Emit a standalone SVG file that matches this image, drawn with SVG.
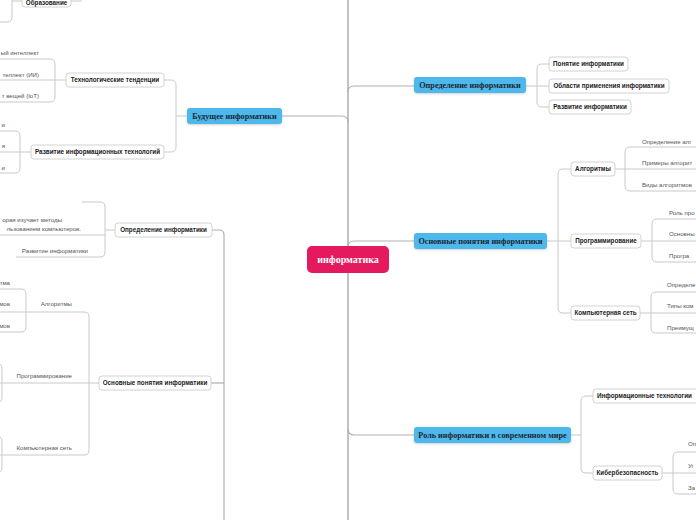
<svg xmlns="http://www.w3.org/2000/svg" width="696" height="520" viewBox="0 0 696 520">
<defs>
<filter id="sh" x="-10%" y="-30%" width="120%" height="170%">
<feDropShadow dx="0" dy="1" stdDeviation="1" flood-color="#000" flood-opacity="0.18"/>
</filter>
<style>
.trunk{fill:none;stroke:#9a9a9a;stroke-width:1.2}
.c{fill:none;stroke:#c9c9c9;stroke-width:1}
.cb{fill:none;stroke:#b0b0b0;stroke-width:1.2}
.blue{fill:#4db8ec;filter:url(#sh)}
.bt{font-family:"Liberation Serif","DejaVu Serif",serif;font-weight:bold;font-size:8.2px;fill:#1d2733;text-anchor:middle}
.ctr{fill:#e5195e}
.ct{font-family:"Liberation Serif","DejaVu Serif",serif;font-weight:bold;font-size:10px;fill:#ffffff;text-anchor:middle}
.wn{fill:#ffffff;stroke:#d2d2d2;stroke-width:1}
.wt{font-family:"Liberation Sans","Arial",sans-serif;font-weight:bold;font-size:6.3px;fill:#222;text-anchor:middle}
.st{font-family:"Liberation Sans","Arial",sans-serif;font-size:6.1px;fill:#555}
.e{text-anchor:end}
</style>
</defs>
<rect width="696" height="520" fill="#ffffff"/>
<g id="connectors">
<path class="trunk" d="M348,0 V520"/>
<path class="cb" d="M348,92 Q348,86 354,86 H414"/>
<path class="cb" d="M348,247 Q348,241 354,241 H414"/>
<path class="cb" d="M348,429 Q348,435 354,435 H414"/>
<path class="cb" d="M282,116 H342 Q348,116 348,122"/>
<path class="c" d="M526,86 H549"/>
<path class="c" d="M549,64 H542 Q537,64 537,69 V102 Q537,107 542,107 H549"/>
<path class="c" d="M547,241 H571"/>
<path class="c" d="M571,169 H563 Q558,169 558,174 V308 Q558,313 563,313 H571"/>
<path class="c" d="M615,169 H696"/>
<path class="c" d="M696,147 H630 Q625,147 625,152 V186 Q625,191 630,191 H696"/>
<path class="c" d="M641,241 H696"/>
<path class="c" d="M696,219 H657 Q652,219 652,224 V257 Q652,262 657,262 H696"/>
<path class="c" d="M640,313 H696"/>
<path class="c" d="M696,292 H656 Q651,292 651,297 V328 Q651,333 656,333 H696"/>
<path class="c" d="M571,435 H581"/>
<path class="c" d="M593,396 H586 Q581,396 581,401 V468 Q581,473 586,473 H593"/>
<path class="c" d="M662,473 H696"/>
<path class="c" d="M696,452 H678 Q673,452 673,457 V489 Q673,494 678,494 H696"/>
<path class="c" d="M187,116 H176"/>
<path class="c" d="M164,80 H171 Q176,80 176,85 V147 Q176,152 171,152 H164"/>
<path class="c" d="M66,80 H0"/>
<path class="c" d="M0,59 H50 Q55,59 55,64 V97 Q55,102 50,102 H0"/>
<path class="c" d="M31,152 H0"/>
<path class="c" d="M0,131 H15 Q20,131 20,136 V168 Q20,173 15,173 H0"/>
<path class="c" d="M22,1 H12 M71,1 H82"/>
<path class="c" d="M12,-2 V17 Q12,22 7,22 H0"/>
<path class="cb" d="M212,230 H219 Q224,230 224,235 V520"/>
<path class="cb" d="M211,383 H224"/>
<path class="c" d="M115,230 H105"/>
<path class="c" d="M82,202 H100 Q105,202 105,207 V252 Q105,257 100,257 H16"/>
<path class="c" d="M0,235 H105"/>
<path class="c" d="M99,383 H0"/>
<path class="c" d="M0,312 H84 Q89,312 89,317 V450 Q89,455 84,455 H0"/>
<path class="c" d="M0,289 H21 Q26,289 26,294 V327 Q26,332 21,332 H0"/>
<path class="c" d="M-4,363 Q2,363 2,369 V397 Q2,403 -4,403"/>
<path class="c" d="M-4,436 Q2,436 2,442 V467 Q2,473 -4,473"/>
</g>
<g id="n-root"><rect class="ctr" x="307" y="246" width="82" height="27" rx="5"/><text class="ct" x="348" y="263">информатика</text></g>
<g id="n-def"><rect class="blue" x="414" y="77" width="112" height="16" rx="3"/><text class="bt" x="470" y="88">Определение информатики</text></g>
<g id="n-def-1"><rect class="wn" x="549" y="57" width="79" height="14" rx="3"/><text class="wt" x="588.5" y="66.3">Понятие информатики</text></g>
<g id="n-def-2"><rect class="wn" x="549" y="79" width="120" height="14" rx="3"/><text class="wt" x="609" y="88.3">Области применения информатики</text></g>
<g id="n-def-3"><rect class="wn" x="549" y="100" width="82" height="14" rx="3"/><text class="wt" x="590" y="109.3">Развитие информатики</text></g>
<g id="n-basic"><rect class="blue" x="414" y="233" width="133" height="16" rx="3"/><text class="bt" x="480.5" y="244">Основные понятия информатики</text></g>
<g id="n-alg"><rect class="wn" x="571" y="162" width="44" height="14" rx="3"/><text class="wt" x="593" y="171.3">Алгоритмы</text></g>
<g id="n-alg-t">
<text class="st" x="642" y="143.5">Определение алг</text>
<text class="st" x="642" y="165">Примеры алгорит</text>
<text class="st" x="642" y="187">Виды алгоритмов</text>
</g>
<g id="n-prog"><rect class="wn" x="571" y="234" width="70" height="14" rx="3"/><text class="wt" x="606" y="243.3">Программирование</text></g>
<g id="n-prog-t">
<text class="st" x="669" y="215">Роль про</text>
<text class="st" x="669" y="236">Основны</text>
<text class="st" x="669" y="258">Програ</text>
</g>
<g id="n-net"><rect class="wn" x="571" y="306" width="69" height="14" rx="3"/><text class="wt" x="605.5" y="315.3">Компьютерная сеть</text></g>
<g id="n-net-t">
<text class="st" x="667" y="287">Определе</text>
<text class="st" x="667" y="308">Типы ком</text>
<text class="st" x="667" y="330">Преимущ</text>
</g>
<g id="n-role"><rect class="blue" x="414" y="427" width="157" height="16" rx="3"/><text class="bt" x="492.5" y="438">Роль информатики в современном мире</text></g>
<g id="n-it"><rect class="wn" x="593" y="389" width="108" height="14" rx="3"/><text class="wt" x="597" y="398.3" style="text-anchor:start">Информационные технологии</text></g>
<g id="n-sec"><rect class="wn" x="593" y="466" width="69" height="14" rx="3"/><text class="wt" x="627.5" y="475.3">Кибербезопасность</text></g>
<g id="n-sec-t">
<text class="st" x="688" y="446">Оп</text>
<text class="st" x="688" y="468">Уг</text>
<text class="st" x="688" y="490">За</text>
</g>
<g id="n-future"><rect class="blue" x="187" y="108" width="95" height="16" rx="3"/><text class="bt" x="234.5" y="119">Будущее информатики</text></g>
<g id="n-trend"><rect class="wn" x="66" y="73" width="98" height="14" rx="3"/><text class="wt" x="115" y="82.3">Технологические тенденции</text></g>
<g id="n-trend-t">
<text class="st e" x="39" y="55">ый интеллект</text>
<text class="st e" x="39" y="76.5">теллект (ИИ)</text>
<text class="st e" x="39" y="98">т вещей (IoT)</text>
</g>
<g id="n-itdev"><rect class="wn" x="31" y="145" width="133" height="14" rx="3"/><text class="wt" x="97.5" y="154.3">Развитие информационных технологий</text></g>
<g id="n-itdev-t">
<text class="st e" x="5" y="126.5">и</text>
<text class="st e" x="5" y="148">я</text>
<text class="st e" x="5" y="169.5">и</text>
</g>
<g id="n-edu"><rect class="wn" x="22" y="-6" width="49" height="13" rx="3"/><text class="wt" x="46.5" y="4.8">Образование</text></g>
<g id="n-ldef"><rect class="wn" x="115" y="223" width="97" height="14" rx="3"/><text class="wt" x="163.5" y="232.3">Определение информатики</text></g>
<g id="n-ldef-t">
<text class="st e" x="62" y="222">орая изучает методы</text>
<text class="st e" x="81" y="230.5">льзованием компьютеров.</text>
<text class="st e" x="88" y="252.5">Развитие информатики</text>
</g>
<g id="n-lbasic"><rect class="wn" x="99" y="376" width="112" height="14" rx="3"/><text class="wt" x="155" y="385.3">Основные понятия информатики</text></g>
<g id="n-lbasic-t">
<text class="st e" x="72" y="306">Алгоритмы</text>
<text class="st e" x="72" y="378">Программирование</text>
<text class="st e" x="72" y="450">Компьютерная сеть</text>
<text class="st e" x="10" y="285">тма</text>
<text class="st e" x="10" y="306">мов</text>
<text class="st e" x="10" y="328">мов</text>
</g>
</svg>
